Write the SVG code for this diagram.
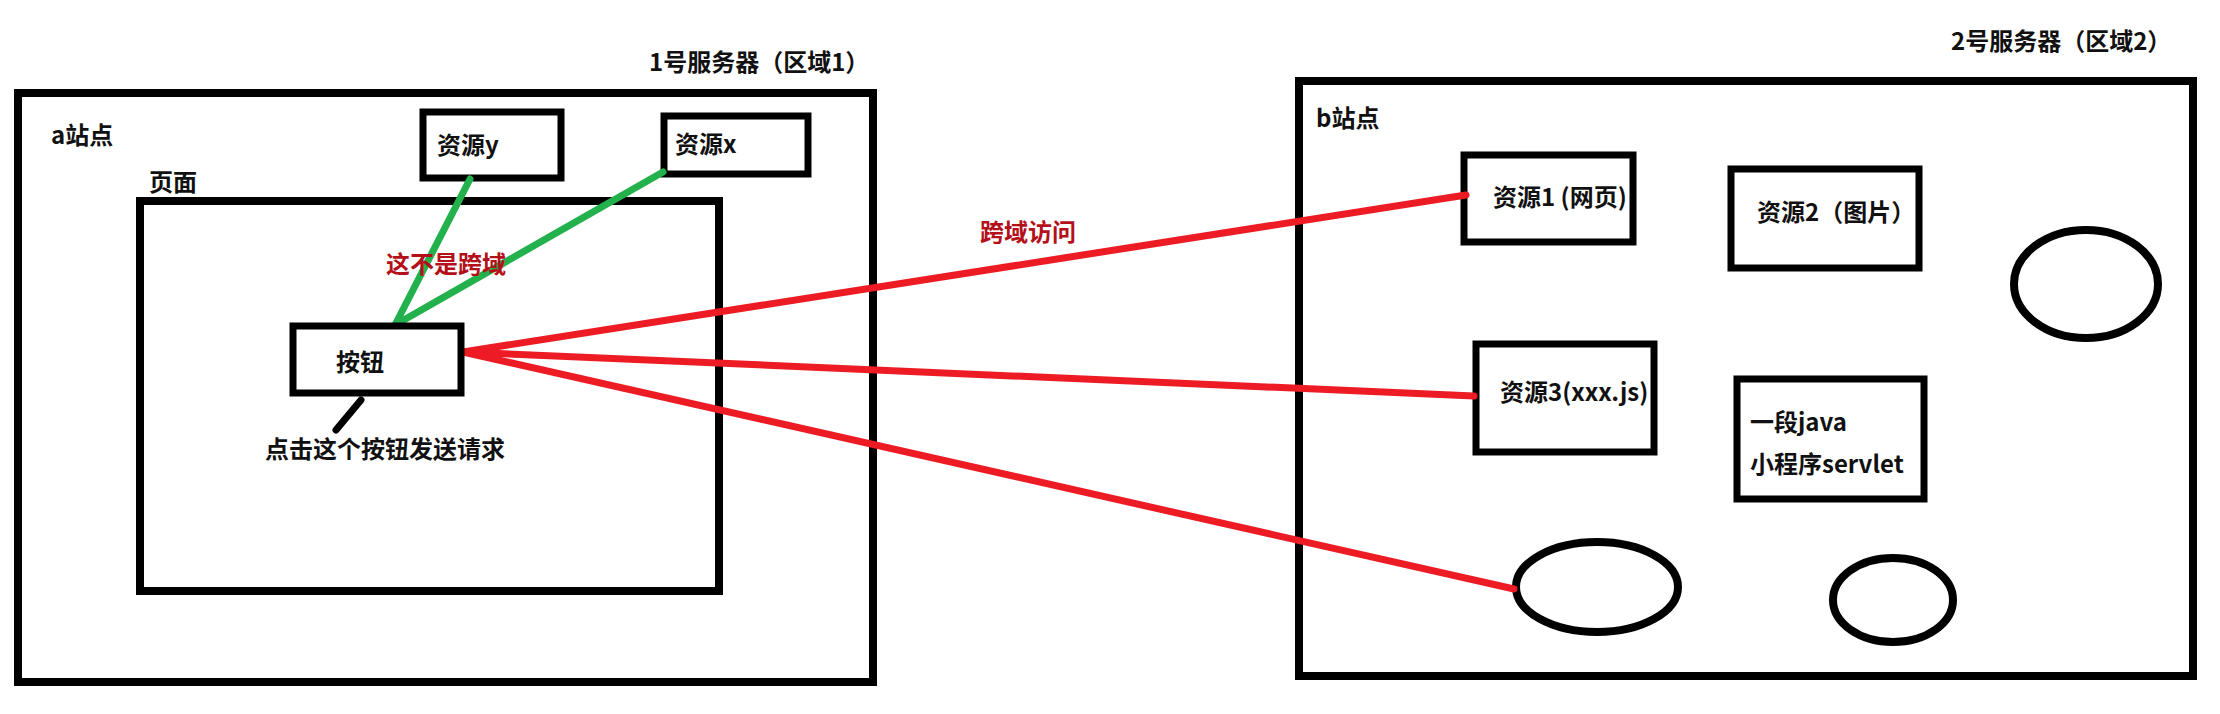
<svg xmlns="http://www.w3.org/2000/svg" width="2220" height="714" viewBox="0 0 2220 714">
<style>
.box{fill:none;stroke:#000;stroke-width:8}
.sbox{fill:#fff;stroke:#000;stroke-width:7}
.t{font-family:"Noto Sans CJK SC","Microsoft YaHei",sans-serif;font-size:24px;font-weight:bold;fill:#111;dominant-baseline:central}
.red{fill:#b3101a}
.rl{stroke:#ed1c24;stroke-width:7;stroke-linecap:round;fill:none}
.gl{stroke:#22b14c;stroke-width:7;stroke-linecap:round;fill:none}
.bl{stroke:#000;stroke-width:7;stroke-linecap:round;fill:none}
</style>
<rect width="2220" height="714" fill="#fff"/>
<g id="server1">
  <text class="t" x="649" y="60">1号服务器（区域1）</text>
  <rect class="box" x="18" y="93" width="855" height="589"/>
  <text class="t" x="51" y="133">a站点</text>
</g>
<g id="page">
  <text class="t" x="149" y="180">页面</text>
  <rect class="box" x="140" y="201" width="579" height="390"/>
</g>
<g id="resY">
  <rect class="sbox" x="423" y="112" width="138" height="66"/>
  <text class="t" x="437" y="143">资源y</text>
</g>
<g id="resX">
  <rect class="sbox" x="664" y="116" width="144" height="58"/>
  <text class="t" x="675" y="142">资源x</text>
</g>
<g id="server2">
  <text class="t" x="1951" y="39">2号服务器（区域2）</text>
  <rect class="box" x="1299" y="81" width="894" height="595"/>
  <text class="t" x="1316" y="116">b站点</text>
</g>
<g id="res1">
  <rect class="sbox" x="1464" y="155" width="169" height="87"/>
  <text class="t" x="1493" y="195">资源1 (网页)</text>
</g>
<g id="res2">
  <rect class="sbox" x="1731" y="169" width="188" height="99"/>
  <text class="t" x="1757" y="210">资源2（图片）</text>
</g>
<g id="res3">
  <rect class="sbox" x="1476" y="344" width="178" height="108"/>
  <text class="t" x="1500" y="390">资源3(xxx.js)</text>
</g>
<g id="servlet">
  <rect class="sbox" x="1737" y="379" width="187" height="120"/>
  <text class="t" x="1750" y="420">一段java</text>
  <text class="t" x="1750" y="462">小程序servlet</text>
</g>
<g id="circle1"><ellipse class="box" cx="2086" cy="284" rx="72" ry="54"/></g>
<g id="ellipse2"><ellipse class="box" cx="1597" cy="587" rx="81" ry="45"/></g>
<g id="ellipse3"><ellipse class="box" cx="1893" cy="600" rx="60" ry="42"/></g>
<g id="connectors">
  <line class="gl" x1="470" y1="179" x2="395" y2="325"/>
  <line class="gl" x1="663" y1="172" x2="395" y2="325"/>
  <line class="rl" x1="463" y1="352" x2="1466" y2="195"/>
  <line class="rl" x1="463" y1="352" x2="1474" y2="396"/>
  <line class="rl" x1="463" y1="352" x2="1514" y2="589"/>
  <line class="bl" x1="361" y1="400" x2="336" y2="430"/>
</g>
<g id="button">
  <rect class="sbox" x="293" y="326" width="168" height="67"/>
  <text class="t" x="336" y="360">按钮</text>
</g>
<g id="labels">
  <text class="t red" x="386" y="262">这不是跨域</text>
  <text class="t red" x="980" y="230">跨域访问</text>
  <text class="t" x="265" y="447">点击这个按钮发送请求</text>
</g>
</svg>
